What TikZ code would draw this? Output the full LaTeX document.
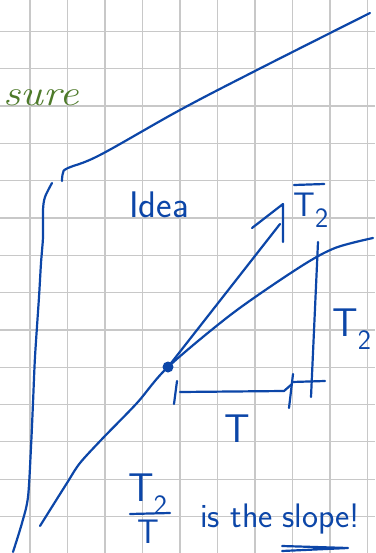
\documentclass[tikz,border=0pt]{standalone}
\usetikzlibrary{arrows.meta, positioning}
\definecolor{inkblue}{RGB}{12,70,168}
\definecolor{inkgreen}{RGB}{78,122,42}
\definecolor{gridgray}{RGB}{200,200,200}
\newcommand{\inksub}[1]{\raisebox{-0.32em}{\fontsize{28}{28}\selectfont #1}}

\begin{document}
\begin{tikzpicture}[
    x=1pt, y=-1pt,
    ink/.style={
        draw=inkblue, line width=2.2pt,
        line cap=round, line join=round
    },
    gridline/.style={draw=gridgray, line width=1.2pt},
    hand/.style={text=inkblue, inner sep=0pt, font=\sffamily\fontsize{34}{34}\selectfont},
    lbl/.style={text=inkblue, inner sep=0pt, font=\sffamily\fontsize{40}{40}\selectfont}
]
\useasboundingbox (0,0) rectangle (375,553);
\fill[white] (0,0) rectangle (375,553);

% squared paper
\foreach \gx in {30,67.5,105,142.5,180,217.5,255,292.5,330,367.5}
    \draw[gridline] (\gx,0) -- (\gx,553);
\foreach \gy in {31.5,68.8,106.1,143.4,180.7,218,255.3,292.6,329.9,367.2,404.5,441.8,479.1,516.4}
    \draw[gridline] (0,\gy) -- (375,\gy);

\node[text=inkgreen, inner sep=0pt, anchor=base east, xscale=1.2,
      font=\itshape\fontsize{36}{36}\selectfont] (sure) at (79,106) {sure};

% frame strokes
\draw[ink] plot[smooth, tension=0.6] coordinates {
    (62,181) (63,173) (68,168) (100,155) (180,110) (257,70) (370,13)};
\draw[ink] plot[smooth, tension=0.5] coordinates {
    (52,183) (45,197) (43,210) (43,237) (41,263) (39,297) (35,357)
    (33,403) (31,447) (28,497) (22,523) (13,552)};

\node[hand, anchor=base west, font=\sffamily\fontsize{37}{37}\selectfont] (idea) at (129,217) {Idea};

% the curve and its tangent
\coordinate (dot) at (168,367);
\draw[ink] plot[smooth, tension=0.5] coordinates {
    (40,526) (50,510) (67,483) (80,463) (103,438) (137,403) (168,367)
    (233,313) (300,267) (335,248) (373,238)};
\fill[inkblue] (dot) circle (5.5pt);

\coordinate (shaftend) at (280,224);
\coordinate (tip) at (283,204);
\coordinate (lbarb) at (252,228);
\coordinate (rbarb) at (283,242);
\draw[ink] (dot) -- (shaftend);
\draw[ink] (lbarb) -- (tip) -- (rbarb);

\node[lbl, anchor=north west, font=\sffamily\fontsize{34}{34}\selectfont] (tbar) at (293,193)
    {T\inksub{2}};
\draw[ink] ([xshift=1pt,yshift=8pt]tbar.north west) -- ([xshift=-4pt,yshift=9pt]tbar.north east);

% rise
\coordinate (risetop) at (318,242);
\coordinate (risebot) at (311,397);
\draw[ink] (risetop) -- (risebot);
\draw[ink] (292,382) -- (325,381);
\node[lbl, anchor=north west] (riselbl) at (332,309) {T\inksub{2}};

% run
\coordinate (runstart) at (180,392);
\coordinate (runend) at (284,391);
\draw[ink] (runstart) -- (runend) -- (292,384);
\draw[ink] (177,381) -- (174,404);
\draw[ink] (293,374) -- (289,408);
\node[lbl, anchor=north] (runlbl) at (237,415) {T};

% conclusion
\node[lbl, anchor=north west] (num) at (128,474) {T\inksub{2}};
\node[lbl, anchor=north, font=\sffamily\fontsize{34}{34}\selectfont] (den) at (148,520) {T};
\draw[ink] (130,514) -- (170,513);
\node[hand, anchor=base west] (isthe) at (200,527) {is the};
\node[hand, anchor=base west] (slope) at ([xshift=9pt]isthe.base east) {slope!};
\draw[ink] ([yshift=-19pt]slope.base west) -- ([xshift=-12pt,yshift=-21pt]slope.base east)
    -- ([yshift=-24pt]slope.base west);

\end{tikzpicture}
\end{document}
